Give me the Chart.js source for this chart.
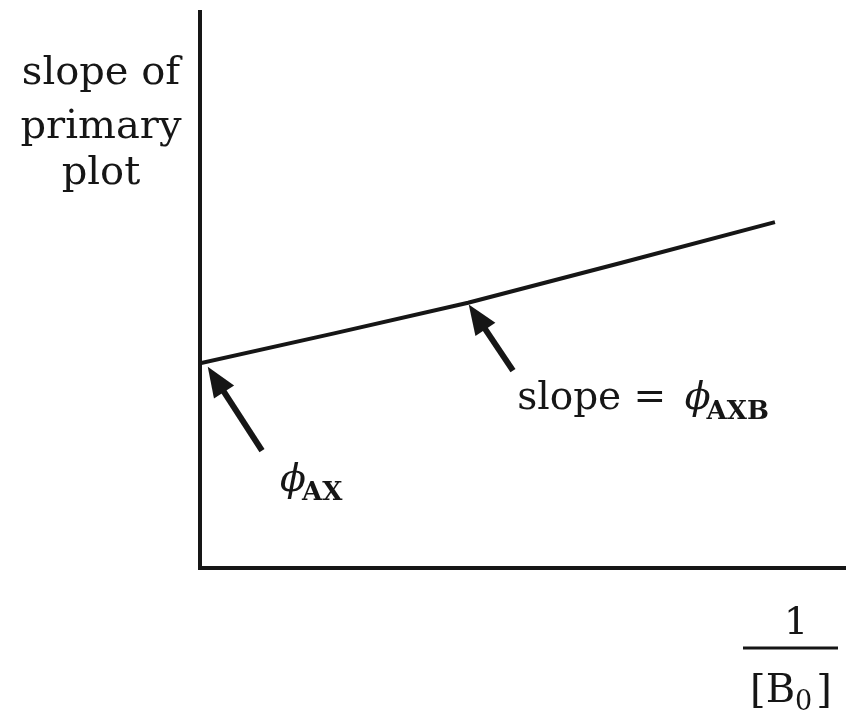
<!DOCTYPE html>
<html>
<head>
<meta charset="utf-8">
<script src="https://cdn.jsdelivr.net/npm/chart.js@4/dist/chart.umd.min.js"></script>
<style>
html,body{margin:0;padding:0;background:#fff;}
#wrap{width:846px;height:714px;position:relative;}
</style>
</head>
<body>
<div id="wrap"><canvas id="c" width="846" height="714"></canvas></div>
<script>
// ---- data ----
const lineX = [0.0, 0.415, 0.890];
const lineY = [0.368, 0.477, 0.622];
// arrows: [tailX, tailY, tipX, tipY]
const arrowAX = [0.096, 0.211, 0.012, 0.362];
const arrowAXB = [0.4845, 0.355, 0.416, 0.474];
const yAxisTitle = ["slope of", "primary", "plot"];
const labelAX = {main: "ϕ", sub: "AX", x: 0.124, y: 0.139};
const labelAXB = {pre: "slope = ", main: "ϕ", sub: "AXB", x: 0.491, y: 0.286};
const xTitleNum = "1";
const xTitleDen = {pre: "[B", sub: "0", post: "]"};

const INK = '#161616';
const SERIF = '"DejaVu Serif", serif';

const overlay = {
  id: 'overlay',
  afterDraw(chart) {
    const {ctx, scales: {x, y}} = chart;
    ctx.save();
    ctx.fillStyle = INK;
    ctx.strokeStyle = INK;

    function arrow(a) {
      const x1 = x.getPixelForValue(a[0]), y1 = y.getPixelForValue(a[1]);
      const x2 = x.getPixelForValue(a[2]), y2 = y.getPixelForValue(a[3]);
      const ang = Math.atan2(y2 - y1, x2 - x1);
      const hl = 30, hw = 12;
      const bx = x2 - hl * Math.cos(ang), by = y2 - hl * Math.sin(ang);
      ctx.lineWidth = 6;
      ctx.beginPath(); ctx.moveTo(x1, y1); ctx.lineTo(bx + 4 * Math.cos(ang), by + 4 * Math.sin(ang)); ctx.stroke();
      ctx.beginPath();
      ctx.moveTo(x2, y2);
      ctx.lineTo(bx + hw * Math.sin(ang), by - hw * Math.cos(ang));
      ctx.lineTo(bx - hw * Math.sin(ang), by + hw * Math.cos(ang));
      ctx.closePath(); ctx.fill();
    }
    arrow(arrowAX);
    arrow(arrowAXB);

    // y axis title
    ctx.font = '40px ' + SERIF;
    ctx.textAlign = 'center';
    ctx.textBaseline = 'alphabetic';
    const ty = [84, 138, 184];
    yAxisTitle.forEach((t, i) => ctx.fillText(t, 101, ty[i]));

    // phi_AX label
    ctx.textAlign = 'left';
    let px = x.getPixelForValue(labelAX.x), py = y.getPixelForValue(labelAX.y);
    ctx.font = 'italic 38px ' + SERIF;
    ctx.fillText(labelAX.main, px, py);
    let w = ctx.measureText(labelAX.main).width;
    ctx.font = 'bold 26px ' + SERIF;
    ctx.fillText(labelAX.sub, px + w - 4, py + 9);

    // slope = phi_AXB
    px = x.getPixelForValue(labelAXB.x); py = y.getPixelForValue(labelAXB.y);
    ctx.font = '39px ' + SERIF;
    ctx.fillText(labelAXB.pre, px, py);
    w = ctx.measureText(labelAXB.pre).width;
    ctx.font = 'italic 38px ' + SERIF;
    ctx.fillText(labelAXB.main, px + w + 6, py);
    const w2 = ctx.measureText(labelAXB.main).width;
    ctx.font = 'bold 26px ' + SERIF;
    ctx.fillText(labelAXB.sub, px + w + 6 + w2 - 4, py + 10);

    // x axis title: 1 / [B0]
    ctx.textAlign = 'center';
    ctx.font = '38px ' + SERIF;
    ctx.fillText(xTitleNum, 796, 634);
    ctx.lineWidth = 3;
    ctx.beginPath(); ctx.moveTo(743, 648); ctx.lineTo(838, 648); ctx.stroke();
    ctx.textAlign = 'left';
    ctx.font = '40px ' + SERIF;
    const wPre = ctx.measureText(xTitleDen.pre).width;
    ctx.font = '27px ' + SERIF;
    const wSub = ctx.measureText(xTitleDen.sub).width;
    ctx.font = '40px ' + SERIF;
    const wPost = ctx.measureText(xTitleDen.post).width;
    let sx = 791 - (wPre + wSub + wPost + 4) / 2;
    ctx.fillText(xTitleDen.pre, sx, 702);
    ctx.font = '27px ' + SERIF;
    ctx.fillText(xTitleDen.sub, sx + wPre, 710);
    ctx.font = '40px ' + SERIF;
    ctx.fillText(xTitleDen.post, sx + wPre + wSub + 4, 702);
    ctx.restore();
  }
};

new Chart(document.getElementById('c'), {
  type: 'line',
  data: {
    datasets: [{
      data: lineX.map((v, i) => ({x: v, y: lineY[i]})),
      borderColor: INK,
      borderWidth: 4,
      pointRadius: 0,
      tension: 0.15,
      fill: false
    }]
  },
  options: {
    responsive: false,
    animation: false,
    events: [],
    layout: {padding: {left: 192, right: 0, top: 12, bottom: 138}},
    plugins: {legend: {display: false}, tooltip: {enabled: false}},
    scales: {
      x: {
        type: 'linear', min: 0, max: 1,
        grid: {display: false},
        ticks: {display: false},
        border: {display: true, color: INK, width: 4}
      },
      y: {
        type: 'linear', min: 0, max: 1,
        grid: {display: false},
        ticks: {display: false},
        border: {display: true, color: INK, width: 4}
      }
    }
  },
  plugins: [overlay]
});
</script>
</body>
</html>
